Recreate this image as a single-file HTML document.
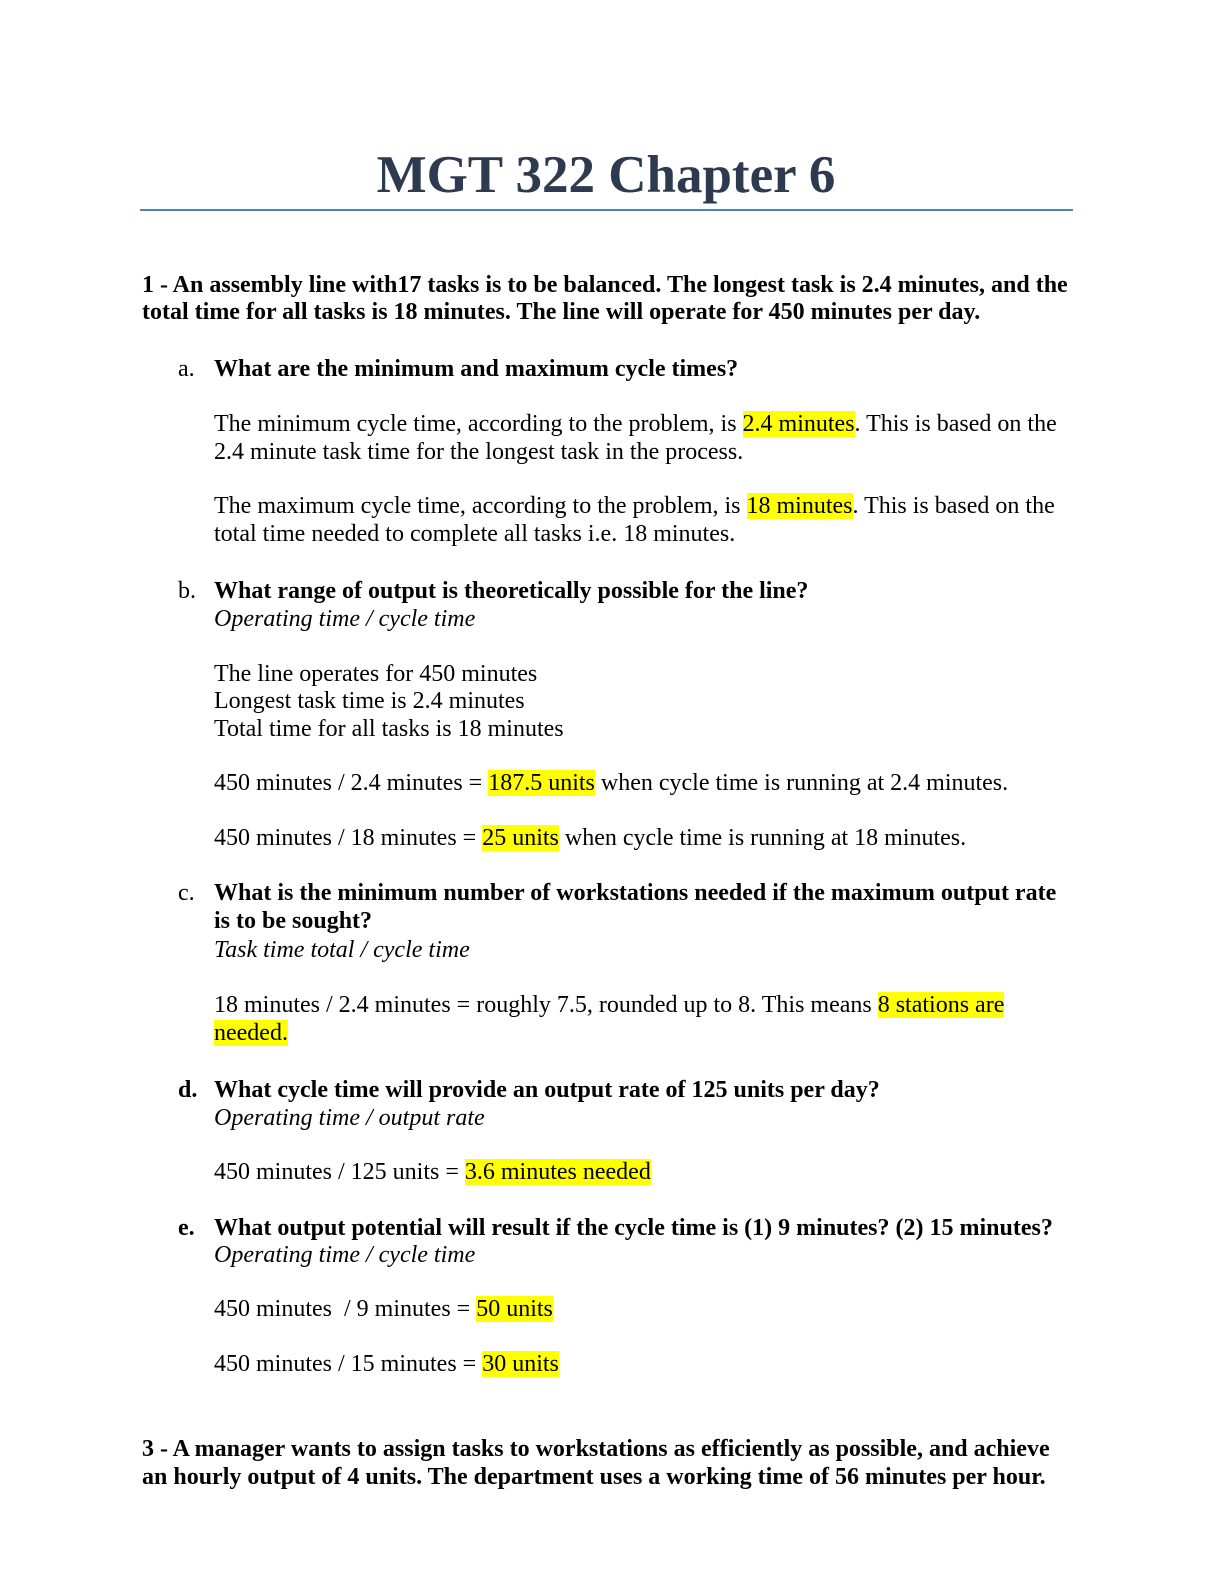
<!DOCTYPE html>
<html><head><meta charset="utf-8"><style>
html,body{margin:0;padding:0;background:#fff;}
body{width:1224px;height:1584px;position:relative;overflow:hidden;font-family:"Liberation Serif",serif;color:#000;}
.l{position:absolute;font-size:24px;line-height:28px;white-space:nowrap;}
.b{font-weight:bold;}
.i{font-style:italic;}
.h{background:#ffff00;}
</style></head><body>
<div style="position:absolute;left:0;width:1212px;top:140px;text-align:center;font:bold 53px/70px 'Liberation Serif',serif;color:#2e3a4f;">MGT 322 Chapter 6</div>
<div style="position:absolute;left:140px;top:209px;width:933px;height:2px;background:#4f81bd;"></div>

<div class="l b" style="left:142px;top:271px">1 - An assembly line with17 tasks is to be balanced. The longest task is 2.4 minutes, and the</div>
<div class="l b" style="left:142px;top:298px">total time for all tasks is 18 minutes. The line will operate for 450 minutes per day.</div>

<div class="l" style="left:178px;top:355px">a.</div>
<div class="l b" style="left:214px;top:355px">What are the minimum and maximum cycle times?</div>
<div class="l" style="left:214px;top:410px">The minimum cycle time, according to the problem, is <span class="h">2.4 minutes</span>. This is based on the</div>
<div class="l" style="left:214px;top:438px">2.4 minute task time for the longest task in the process.</div>
<div class="l" style="left:214px;top:492px">The maximum cycle time, according to the problem, is <span class="h">18 minutes</span>. This is based on the</div>
<div class="l" style="left:214px;top:520px">total time needed to complete all tasks i.e. 18 minutes.</div>

<div class="l" style="left:178px;top:577px">b.</div>
<div class="l b" style="left:214px;top:577px">What range of output is theoretically possible for the line?</div>
<div class="l i" style="left:214px;top:605px">Operating time / cycle time</div>
<div class="l" style="left:214px;top:660px">The line operates for 450 minutes</div>
<div class="l" style="left:214px;top:687px">Longest task time is 2.4 minutes</div>
<div class="l" style="left:214px;top:715px">Total time for all tasks is 18 minutes</div>
<div class="l" style="left:214px;top:769px">450 minutes / 2.4 minutes = <span class="h">187.5 units</span> when cycle time is running at 2.4 minutes.</div>
<div class="l" style="left:214px;top:824px">450 minutes / 18 minutes = <span class="h">25 units</span> when cycle time is running at 18 minutes.</div>

<div class="l" style="left:178px;top:879px">c.</div>
<div class="l b" style="left:214px;top:879px">What is the minimum number of workstations needed if the maximum output rate</div>
<div class="l b" style="left:214px;top:907px">is to be sought?</div>
<div class="l i" style="left:214px;top:936px">Task time total / cycle time</div>
<div class="l" style="left:214px;top:991px">18 minutes / 2.4 minutes = roughly 7.5, rounded up to 8. This means <span class="h">8 stations are</span></div>
<div class="l" style="left:214px;top:1019px"><span class="h">needed.</span></div>

<div class="l b" style="left:178px;top:1076px">d.</div>
<div class="l b" style="left:214px;top:1076px">What cycle time will provide an output rate of 125 units per day?</div>
<div class="l i" style="left:214px;top:1104px">Operating time / output rate</div>
<div class="l" style="left:214px;top:1158px">450 minutes / 125 units = <span class="h">3.6 minutes needed</span></div>

<div class="l b" style="left:178px;top:1214px">e.</div>
<div class="l b" style="left:214px;top:1214px">What output potential will result if the cycle time is (1) 9 minutes? (2) 15 minutes?</div>
<div class="l i" style="left:214px;top:1241px">Operating time / cycle time</div>
<div class="l" style="left:214px;top:1295px">450 minutes &nbsp;/ 9 minutes = <span class="h">50 units</span></div>
<div class="l" style="left:214px;top:1350px">450 minutes / 15 minutes = <span class="h">30 units</span></div>

<div class="l b" style="left:142px;top:1435px">3 - A manager wants to assign tasks to workstations as efficiently as possible, and achieve</div>
<div class="l b" style="left:142px;top:1463px">an hourly output of 4 units. The department uses a working time of 56 minutes per hour.</div>
</body></html>
